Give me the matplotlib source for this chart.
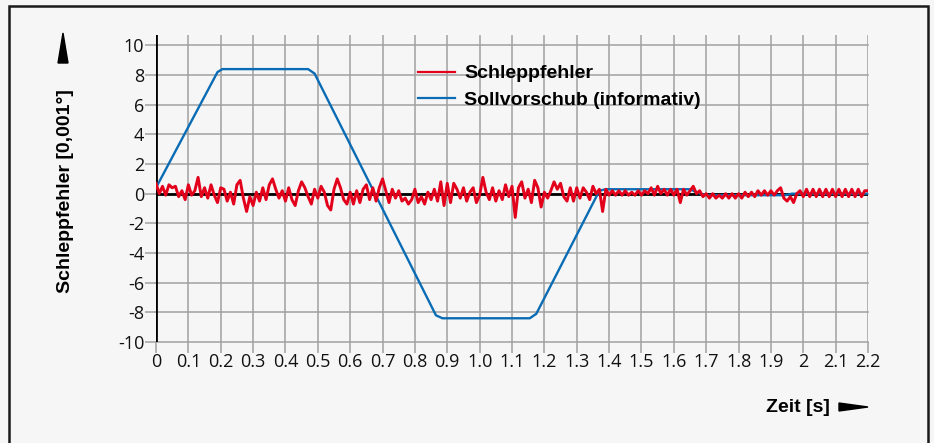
import numpy as np
import matplotlib.pyplot as plt
from matplotlib.patches import Rectangle

# Schleppfehler, sampled every 0.01 s from 0 to 2.2 s
fehler = [
    0.7, 0.0, 0.5, -0.1, 0.6, 0.4, 0.5, -0.2, 0.2, -0.4,
    0.6, -0.1, 0.2, 1.1, -0.2, 0.4, -0.3, 0.6, -0.1, -0.6,
    0.4, 0.3, -0.5, 0.1, -0.7, 0.6, 0.9, -0.3, -1.2, -0.2,
    -0.8, 0.1, -0.5, 0.4, -0.4, 0.6, 1.0, 0.3, -0.3, 0.2,
    -0.5, 0.4, -0.4, -0.8, 0.2, 0.8, 0.4, -0.2, -0.7, 0.3,
    -0.3, 0.5, 0.1, -0.8, -1.1, 0.3, 1.0, 0.4, -0.4, -0.7,
    0.1, -0.7, 0.2, -0.6, 0.3, 0.6, -0.4, 0.4, -0.5, 0.4,
    1.0, 0.2, -0.6, 0.3, -0.3, 0.2, -0.5, -0.3, -0.7, -0.4,
    0.3, -0.6, -0.2, -0.7, 0.1, -0.4, 0.3, -0.5, 0.8, -0.8,
    0.7, -0.6, 0.7, 0.3, -0.3, 0.4, -0.5, 0.1, 0.4, -0.6,
    -0.1, 1.1, 0.1, -0.4, 0.4, -0.5, 0.2, -0.4, 0.6, -0.2,
    0.5, -1.6, 0.4, 0.8, -0.3, 0.3, -0.6, 0.9, 0.4, -0.9,
    0.1, -0.3, 0.2, 0.8, 0.3, 0.7, -0.2, -0.5, 0.4, -0.5,
    0.4, -0.3, 0.4, 0.1, -0.4, 0.5, 0.0, 0.3, -1.2, 0.3,
    -0.1, 0.2, -0.1, 0.2, -0.1, 0.2, -0.1, 0.1, -0.1, 0.2,
    -0.1, 0.2, 0.0, 0.4, -0.1, 0.5, 0.0, 0.3, -0.1, 0.3,
    -0.1, 0.3, -0.6, 0.3, -0.1, 0.2, 0.5, 0.0, 0.2, -0.2,
    0.0, -0.3, 0.0, -0.3, -0.1, -0.3, 0.0, -0.3, 0.0, -0.3,
    0.0, -0.3, 0.1, -0.2, 0.1, -0.2, 0.2, -0.1, 0.2, -0.1,
    0.2, -0.1, 0.2, 0.4, -0.3, -0.5, -0.2, -0.6, 0.0, 0.2,
    -0.2, 0.3, -0.2, 0.3, -0.2, 0.3, -0.2, 0.3, -0.2, 0.3,
    -0.2, 0.3, -0.2, 0.3, -0.2, 0.3, -0.2, 0.3, -0.2, 0.2, 0.2,
]
fehler_t = [i / 100 for i in range(len(fehler))]

# Sollvorschub (informativ), corner points
soll_t = [0.0, 0.19, 0.205, 0.47, 0.49, 0.865, 0.885, 1.155, 1.175, 1.37, 1.39,
          1.65, 1.675, 1.70, 1.945, 1.965, 2.2]
soll_y = [0.4, 8.2, 8.4, 8.4, 8.1, -8.2, -8.4, -8.4, -8.1, 0.2, 0.3,
          0.3, 0.05, -0.1, -0.1, 0.0, 0.0]

xticks = [round(i * 0.1, 1) for i in range(23)]
xlabels = ['0', '0.1', '0.2', '0.3', '0.4', '0.5', '0.6', '0.7', '0.8', '0.9', '1.0',
           '1.1', '1.2', '1.3', '1.4', '1.5', '1.6', '1.7', '1.8', '1.9', '2', '2.1', '2.2']
yticks = [10, 8, 6, 4, 2, 0, -2, -4, -6, -8, -10]

bg = '#f6f6f6'
grid_c = '#a0a0a0'
plt.rcParams['font.family'] = ['Liberation Sans', 'DejaVu Sans']

fig = plt.figure(figsize=(9.34, 4.43), dpi=100, facecolor=bg)
fig.patches.append(Rectangle((9 / 934, -0.01), 919 / 934, 1 - 6 / 443 + 0.01,
                             transform=fig.transFigure, fill=False,
                             edgecolor='#1a1a1a', linewidth=1.8))

ax = fig.add_axes([156 / 934, 101 / 443, 712 / 934, 307 / 443])
ax.set_facecolor(bg)
ax.set_xlim(0, 2.2)
ax.set_ylim(-10, 10.7)
for s in ax.spines.values():
    s.set_visible(False)

# grid
for x in xticks:
    ax.axvline(x, color=grid_c, lw=1.1, zorder=1)
for y in yticks:
    ax.plot([0, 2.2], [y, y], color=grid_c, lw=1.1, zorder=1, clip_on=False)

ax.set_xticks(xticks)
ax.set_xticklabels(xlabels, family=['Open Sans', 'DejaVu Sans'])
ax.set_yticks(yticks)
ax.set_yticklabels([str(v) for v in yticks], family=['Open Sans', 'DejaVu Sans'])
ax.tick_params(axis='both', length=8, width=1.1, color=grid_c, labelsize=13,
               labelcolor='#111111', direction='out')
ax.tick_params(axis='x', pad=0)
ax.tick_params(axis='y', pad=0.5)

# axis lines
ax.axvline(0, color='black', lw=2.0, zorder=3)
ax.axhline(0, color='black', lw=2.0, zorder=3)

ax.plot(soll_t, soll_y, color='#0a6cb4', lw=1.7, zorder=4,
        solid_joinstyle='round', label='Sollvorschub (informativ)')
ax.plot(fehler_t, fehler, color='#e3001b', lw=2.1, zorder=5,
        label='Schleppfehler')

handles, labels = ax.get_legend_handles_labels()
leg = ax.legend(handles[::-1], labels[::-1], loc='upper left',
                bbox_to_anchor=(254 / 712, 0.928), frameon=False,
                prop={'weight': 'bold', 'size': 14}, handlelength=1.9,
                handletextpad=0.5, labelspacing=0.45, borderaxespad=0)
for line in leg.get_lines():
    line.set_linewidth(1.6)

# axis labels with arrowheads
fig.text(65 / 934, 1 - 191 / 443, 'Schleppfehler [0,001°]', rotation=90,
         ha='center', va='center', fontsize=14, fontweight='bold')
fig.patches.append(plt.Polygon([[58 / 934, 1 - 63 / 443], [68 / 934, 1 - 63 / 443],
                                [63 / 934, 1 - 33 / 443]], closed=True,
                               transform=fig.transFigure, color='black'))
fig.text(830 / 934, 1 - 407 / 443, 'Zeit [s]', ha='right', va='center',
         fontsize=14, fontweight='bold')
fig.patches.append(plt.Polygon([[839 / 934, 1 - 403 / 443], [839 / 934, 1 - 411 / 443],
                                [868 / 934, 1 - 407 / 443]], closed=True,
                               transform=fig.transFigure, color='black'))

fig.savefig('out.png', dpi=100, facecolor=bg)
